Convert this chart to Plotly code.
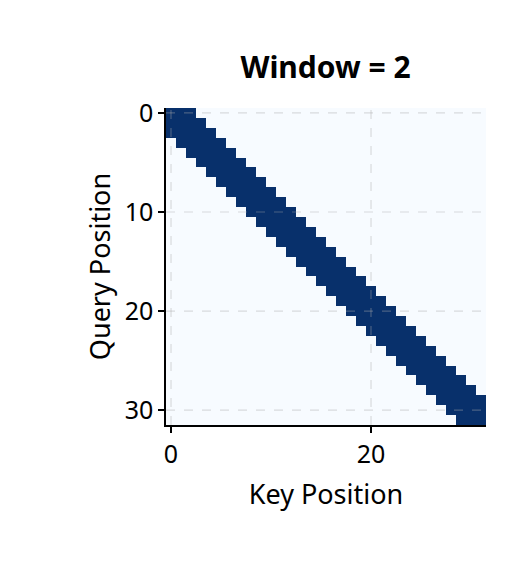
import numpy as np
import plotly.graph_objects as go

# sliding window attention mask
n_pos = 32
window = 2
positions = list(range(n_pos))
mask = [[1 if abs(q - k) <= window else 0 for k in positions] for q in positions]

x_ticks = [0, 20]
y_ticks = [0, 10, 20, 30]

fig = go.Figure()
fig.add_trace(go.Heatmap(
    z=mask, x=positions, y=positions,
    colorscale=[[0, "#f7fbff"], [1, "#08306b"]],
    zmin=0, zmax=1, showscale=False,
))

# dashed grid drawn over the heatmap
grid = dict(color="rgba(170,170,170,0.4)", width=1.2, dash="dash")
for xv in x_ticks:
    fig.add_shape(type="line", x0=xv, x1=xv, y0=0, y1=1, xref="x", yref="paper",
                  line=grid, layer="above")
for yv in y_ticks:
    fig.add_shape(type="line", y0=yv, y1=yv, x0=0, x1=1, yref="y", xref="paper",
                  line=grid, layer="above")

ax = dict(showline=True, linecolor="black", linewidth=1.5, ticks="outside",
          ticklen=6, tickwidth=1.5, tickcolor="black", mirror=False,
          showgrid=False, zeroline=False,
          tickfont=dict(size=25, color="black"))

fig.update_layout(
    width=508, height=574,
    paper_bgcolor="white", plot_bgcolor="white",
    font=dict(family="Noto Sans", color="black"),
    title=dict(text="<b>Window = 2</b>", x=0.625, xanchor="center", y=0.915,
               font=dict(size=30)),
    margin=dict(l=158, r=30, t=100, b=157),
    xaxis=dict(ax, range=[-0.5, n_pos - 0.5], tickvals=x_ticks,
               title=dict(text="Key Position", font=dict(size=27), standoff=16)),
    yaxis=dict(ax, range=[n_pos - 0.5, -0.5], tickvals=y_ticks,
               title=dict(text="Query Position", font=dict(size=27), standoff=6)),
)

fig.write_html("out.html")
